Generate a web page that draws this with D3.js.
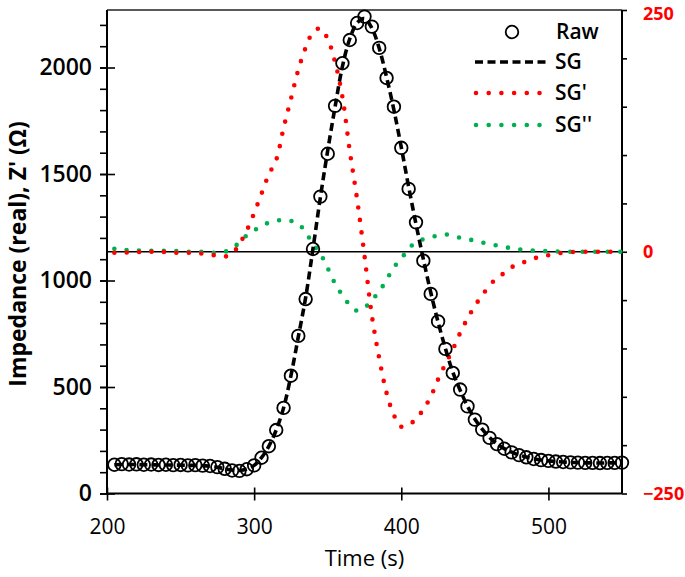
<!DOCTYPE html>
<html><head><meta charset="utf-8">
<script src="https://cdn.jsdelivr.net/npm/d3@7/dist/d3.min.js"></script>
<style>body{margin:0;background:#fff;}svg{display:block;font-family:"Open Sans",sans-serif;}</style>
</head><body>
<svg id="chart" width="685" height="577"></svg>
<script>
const time = [205,210,215,220,225,230,235,240,245,250,255,260,265,270,275,280,285,290,295,300,305,310,315,320,325,330,335,340,345,350,355,360,365,370,375,380,385,390,395,400,405,410,415,420,425,430,435,440,445,450,455,460,465,470,475,480,485,490,495,500,505,510,515,520,525,530,535,540,545,550];
const raw = [135,138,136,137,135,136,134,135,133,134,132,133,131,129,124,116,108,106,114,132,168,222,298,402,553,740,913,1148,1394,1595,1820,2020,2129,2209,2239,2192,2092,1951,1816,1623,1430,1273,1093,937,808,679,566,488,409,347,300,261,232,210,193,180,170,162,157,153,150,148,146,145,144,144,143,144,144,145];
const sg = [135,136,136,136,135,135,134,134,133,133,132,132,131,128,123,116,110,108,115,132,168,222,298,402,553,735,920,1150,1390,1610,1815,2005,2135,2210,2230,2185,2090,1955,1800,1625,1440,1265,1100,945,805,680,570,485,410,350,302,263,233,211,194,181,171,163,157,153,150,148,146,145,144,144,143,144,144,145];
const sg1 = [-1,0,-1,0,-1,0,-1,0,-1,-1,-1,-1,-2,-3,-4,-5,-2,8,22,40,60,80,95,128,158,188,211,227,231,220,196,160,104,54,-4,-66,-110,-146,-169,-181,-179,-173,-163,-150,-132,-116,-101,-84,-69,-56,-45,-35,-27,-22,-16,-12.5,-10,-7,-5,-3.5,-2,-1,-0.5,0,0,0,0,0,0,0];
const sg2 = [3,1,2,1,2,1,1,1,1,0,0,0,0,-1,-1,0,3,10,17,22,27,30,32,33,32,29,20,8,-2,-17,-33,-45,-55,-61,-58,-50,-41,-29,-16,-7,3,10,13,14.7,17,18,16,14.5,13.5,11,9.5,8,6.5,5,3.5,2.5,1.7,1.2,0.8,0.5,0.3,0,0,0,0,0,0,0,0,0];
const xTicks = [200,300,400,500];
const yLeftTicks = [0,500,1000,1500,2000];
const yRightTicks = [-250,0,250];
const legendLabels = ["Raw","SG","SG'","SG''"];

const svg = d3.select("#chart");
const L = 107, R = 622, T = 10, B = 493.5;
const x = d3.scaleLinear().domain([200,550]).range([L,R]);
const yL = d3.scaleLinear().domain([0,2270]).range([B,T]);
const yR = d3.scaleLinear().domain([-250,250]).range([B,T]);
const RED = "#ff0000", GREEN = "#00b050";
const fmt = d3.format("d");

// frame
svg.append("line").attr("x1",L).attr("x2",R).attr("y1",T).attr("y2",T).attr("stroke","#222").attr("stroke-width",1.5);

// left axis
const gL = svg.append("g").attr("transform",`translate(${L},0)`);
gL.call(d3.axisLeft(yL).tickValues(d3.range(0,2270,100)).tickSize(7).tickFormat(""));
gL.selectAll(".tick line").attr("stroke","#000").attr("stroke-width",1.6);
gL.select(".domain").remove();
const gLM = svg.append("g").attr("transform",`translate(${L},0)`);
gLM.call(d3.axisLeft(yL).tickValues(yLeftTicks).tickFormat(fmt).tickSizeInner(7).tickSizeOuter(0).tickPadding(8));
gLM.select(".domain").remove();
gLM.selectAll(".tick line").attr("x2",8).attr("x1",-7).attr("stroke","#000").attr("stroke-width",1.6);
gLM.selectAll(".tick text").attr("x",-15).attr("font-size",23).attr("font-weight",600).attr("font-family","Open Sans").attr("fill","#000");

// right axis
const gR = svg.append("g").attr("transform",`translate(${R},0)`);
gR.call(d3.axisRight(yR).tickValues(d3.range(-250,251,50)).tickSize(5).tickFormat(""));
gR.select(".domain").remove();
gR.selectAll(".tick line").attr("stroke","#000").attr("stroke-width",1.6);
const gRL = svg.append("g").attr("transform",`translate(${R},0)`);
gRL.call(d3.axisRight(yR).tickValues(yRightTicks).tickFormat(fmt).tickSize(0).tickPadding(21));
gRL.select(".domain").remove();
gRL.selectAll(".tick text").attr("font-size",18).attr("font-weight",700).attr("font-family","Open Sans").attr("fill",RED)
  .attr("dy",d=>d===250?"0.5em":"0.32em");

// bottom axis
const gB = svg.append("g").attr("transform",`translate(0,${B})`);
gB.call(d3.axisBottom(x).tickValues(xTicks).tickFormat(fmt).tickSize(7).tickPadding(19).tickSizeOuter(0));
gB.select(".domain").remove();
gB.selectAll(".tick line").attr("y1",-6).attr("stroke","#000").attr("stroke-width",1.6);
gB.selectAll(".tick text").attr("font-size",21).attr("font-weight",500).attr("font-family","Open Sans").attr("fill","#000");

// axis lines
svg.append("line").attr("x1",L).attr("x2",L).attr("y1",T).attr("y2",B).attr("stroke","#000").attr("stroke-width",2);
svg.append("line").attr("x1",R).attr("x2",R).attr("y1",T).attr("y2",B).attr("stroke","#000").attr("stroke-width",2);
svg.append("line").attr("x1",L).attr("x2",R).attr("y1",B).attr("y2",B).attr("stroke","#000").attr("stroke-width",2);

// zero line
svg.append("line").attr("x1",L).attr("x2",R).attr("y1",yR(0)).attr("y2",yR(0)).attr("stroke","#000").attr("stroke-width",1.5);

// titles
svg.append("text").attr("x",(L+R)/2).attr("y",566).attr("text-anchor","middle").attr("font-size",22).attr("font-weight",500).text("Time (s)");
svg.append("text").attr("transform",`translate(26,254) rotate(-90)`).attr("text-anchor","middle").attr("font-size",23).attr("font-weight",700).text("Impedance (real), Z' (\u03A9)");

// series
const lineR = d3.line().x((d,i)=>x(time[i])).y(d=>yR(d)).curve(d3.curveCatmullRom);
const lineL = d3.line().x((d,i)=>x(time[i])).y(d=>yL(d)).curve(d3.curveCatmullRom);
svg.append("path").attr("d",lineR(sg2)).attr("fill","none").attr("stroke",GREEN).attr("stroke-width",4.6).attr("stroke-linecap","round").attr("stroke-dasharray","0 12.5");
svg.append("path").attr("d",lineR(sg1)).attr("fill","none").attr("stroke",RED).attr("stroke-width",4.6).attr("stroke-linecap","round").attr("stroke-dasharray","0 12.5");
svg.append("g").selectAll("circle").data(raw).join("circle")
  .attr("cx",(d,i)=>x(time[i])).attr("cy",d=>yL(d)).attr("r",6.3)
  .attr("fill","none").attr("stroke","#000").attr("stroke-width",1.8);
svg.append("path").attr("d",lineL(sg)).attr("fill","none").attr("stroke","#000").attr("stroke-width",3.6).attr("stroke-dasharray","8 4.5");

// legend
const lg = svg.append("g");
const ly = [32,62,93,125];
lg.append("circle").attr("cx",512).attr("cy",ly[0]).attr("r",6.3).attr("fill","none").attr("stroke","#000").attr("stroke-width",1.8);
lg.append("line").attr("x1",475).attr("x2",550).attr("y1",ly[1]).attr("y2",ly[1]).attr("stroke","#000").attr("stroke-width",3.6).attr("stroke-dasharray","8 4.5");
lg.append("line").attr("x1",476).attr("x2",540).attr("y1",ly[2]).attr("y2",ly[2]).attr("stroke",RED).attr("stroke-width",4.6).attr("stroke-linecap","round").attr("stroke-dasharray","0 12.7");
lg.append("line").attr("x1",476).attr("x2",540).attr("y1",ly[3]).attr("y2",ly[3]).attr("stroke",GREEN).attr("stroke-width",4.6).attr("stroke-linecap","round").attr("stroke-dasharray","0 12.7");
lg.selectAll("text").data(legendLabels).join("text")
  .attr("x",(d,i)=>i===0?556:555).attr("y",(d,i)=>ly[i]).attr("dy","0.35em")
  .attr("font-size",21).attr("font-weight",600).text(d=>d);
</script>
</body></html>
